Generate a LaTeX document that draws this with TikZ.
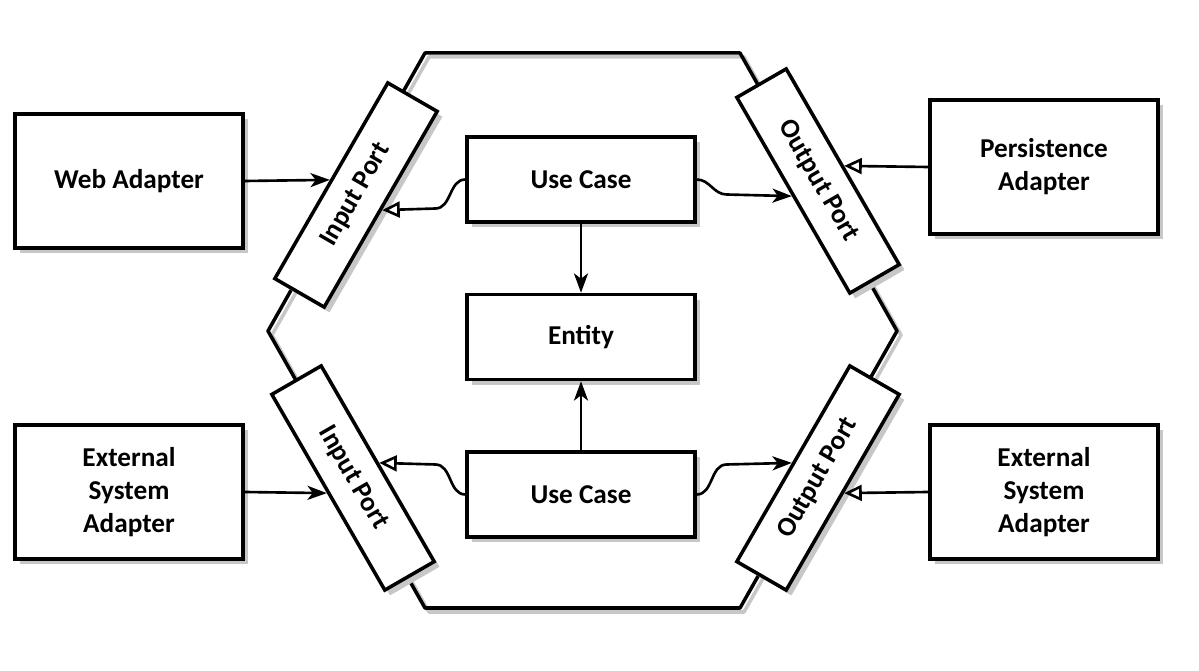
\documentclass[tikz,border=0pt]{standalone}
\usepackage{fontspec}
\setmainfont{Carlito}
\usetikzlibrary{arrows.meta, positioning, shadows}
\tikzset{
	block/.style = {draw, fill=white, rectangle, line width=2pt, minimum width=4.56cm, align=center,
		font=\fontsize{15.5}{18.8}\selectfont\bfseries,
		drop shadow={shadow xshift=3pt, shadow yshift=-3pt, opacity=1, fill=black!22}},
	adapter/.style = {block, minimum height=2.68cm},
	core/.style = {block, minimum height=1.7cm},
	port/.style = {block, minimum width=4.52cm, minimum height=1.14cm},
	arrow/.style = {-{Stealth[length=11pt, width=8pt, inset=3pt]}, line width=1.5pt},
	openarrow/.style = {-{Triangle[open, length=10pt, width=9pt, line width=1.5pt]}, line width=1.5pt},
}
\begin{document}
\begin{tikzpicture}[x=0.02cm, y=-0.02cm, node distance=1.38cm]
	\useasboundingbox (0,0) rectangle (1199,671);

	% Hexagon (shadow first, then outline)
	\foreach \s/\c in {4/black!22, 0/black}
		\draw[\c, line width=2pt, line join=round, shift={(\s,\s)}]
			(425,53) -- (740,53) -- (897,331) -- (740,608) -- (425,608) -- (268,331) -- cycle;

	% Application core
	\node[core] (entity) at (581,337) {Entity};
	\node[core, above=of entity] (ucTop) {Use Case};
	\node[core, below=of entity] (ucBot) {Use Case};

	% Adapters
	\node[adapter] (web) at (129,181) {Web Adapter};
	\node[adapter] (extL) at (129,492) {External\\System\\Adapter};
	\node[adapter] (pers) at (1044,167) {Persistence\\Adapter};
	\node[adapter] (extR) at (1044,492) {External\\System\\Adapter};

	% Ports on the hexagon
	\node[port, rotate=60] (inTop) at (356,195) {Input Port};
	\node[port, rotate=-60] (inBot) at (353,478) {Input Port};
	\node[port, rotate=-60] (outTop) at (818,181) {Output Port};
	\node[port, rotate=60] (outBot) at (818,478) {Output Port};

	% Connections
	\draw[arrow] (web.east) -- (inTop.north);
	\draw[arrow] (extL.east) -- (inBot.south);
	\draw[openarrow] (pers.west) -- (outTop.north);
	\draw[openarrow] (extR.west) -- (outBot.south);

	\draw[arrow] (ucTop) -- (entity);
	\draw[arrow] (ucBot) -- (entity);

	\draw[openarrow] (ucTop.west) to[out=180, in=0] ++(-30,29) -- (inTop.south);
	\draw[arrow] (ucTop.east) to[out=0, in=180] ++(30,15) -- (outTop.south);
	\draw[openarrow] (ucBot.west) to[out=180, in=0] ++(-30,-30) -- (inBot.north);
	\draw[arrow] (ucBot.east) to[out=0, in=180] ++(30,-30) -- (outBot.north);

\end{tikzpicture}
\end{document}
